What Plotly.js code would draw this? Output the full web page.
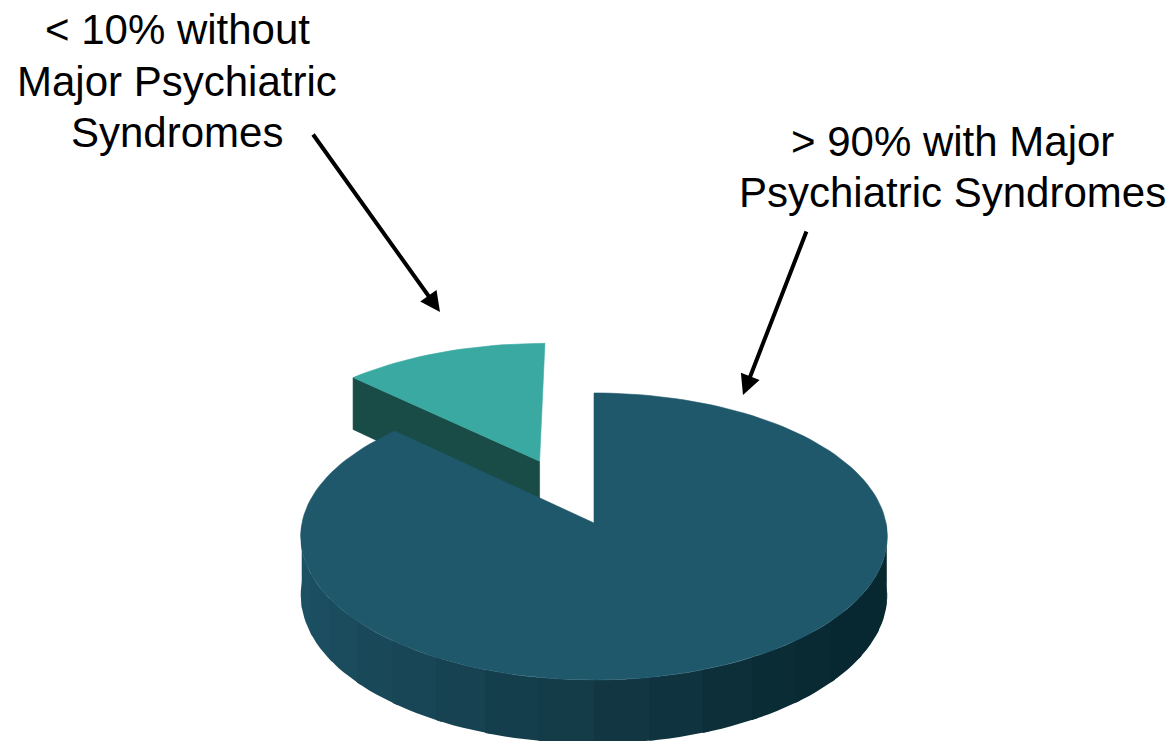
<!DOCTYPE html>
<html>
<head>
<meta charset="utf-8">
<script src="https://cdn.plot.ly/plotly-3.0.1.min.js"></script>
<style>html,body{margin:0;padding:0;background:#fff;}#chart{width:1175px;height:741px;}</style>
</head>
<body>
<div id="chart"></div>
<script>
// ---- data ----
const CATEGORIES = ['Without Major Psychiatric Syndromes', 'With Major Psychiatric Syndromes'];
const VALUES = [13, 87];
const LABEL_WITHOUT = ['< 10% without', 'Major Psychiatric', 'Syndromes'];
const LABEL_WITH = ['> 90% with Major', 'Psychiatric Syndromes'];

// ---- styles ----
const TOP_COLORS = ['#3aa9a2', '#1f586b'];
const SIDE_COLORS = ['#194c46', null];
const EXPLODE = [0.49, 0];
const SIDE_STOPS = [
  [0.00, [29, 84, 104]], [0.15, [27, 78, 96]], [0.30, [24, 70, 86]],
  [0.42, [20, 62, 76]], [0.52, [18, 56, 68]], [0.60, [14, 50, 62]],
  [0.68, [10, 44, 54]], [0.80, [8, 40, 49]], [1.00, [8, 40, 48]]
];

// ---- projection of a tilted disk (pixel units of the hidden axes) ----
const CX = 594, CY = 523, RX = 292, RY = 143.5, P = 0.094, D = 58;
const rad = a => a * Math.PI / 180;
function pt(th, r, h, ou, ov) {
  const u = ou + r * Math.sin(rad(th));
  const v = ov - r * Math.cos(rad(th));
  const s = 1 + P * v;
  return [CX + RX * u * s, CY + RY * v * s + h * D * s];
}
function sideColor(t) {
  for (let i = 1; i < SIDE_STOPS.length; i++) {
    const [t0, c0] = SIDE_STOPS[i - 1], [t1, c1] = SIDE_STOPS[i];
    if (t <= t1) {
      const f = (t - t0) / (t1 - t0);
      const c = c0.map((a, k) => Math.round(a + (c1[k] - a) * f));
      return 'rgb(' + c.join(',') + ')';
    }
  }
  return 'rgb(' + SIDE_STOPS[SIDE_STOPS.length - 1][1].join(',') + ')';
}
function poly(points, color, name, lw) {
  return {
    type: 'scatter', mode: 'lines', fill: 'toself',
    x: points.map(p => p[0]).concat([points[0][0]]),
    y: points.map(p => p[1]).concat([points[0][1]]),
    fillcolor: color, line: {color: color, width: lw === undefined ? 0.6 : lw},
    hoverinfo: 'skip', showlegend: false, name: name
  };
}

const total = VALUES.reduce((a, b) => a + b, 0);
let cum = 0;
const slices = VALUES.map((val, i) => {
  const th0 = -360 * cum / total;
  cum += val;
  const th1 = -360 * cum / total;
  const mid = (th0 + th1) / 2;
  const e = EXPLODE[i];
  return {i, th0, th1, ou: e * Math.sin(rad(mid)), ov: -e * Math.cos(rad(mid))};
});
slices.sort((a, b) => a.ov - b.ov);

const traces = [];
slices.forEach(sl => {
  const {i, th0, th1, ou, ov} = sl;
  const name = CATEGORIES[i];
  // radial face at end angle
  const nEnd = -Math.cos(rad(th1 - 90));
  if (nEnd > 0.01) {
    traces.push(poly([pt(th1, 0, 0, ou, ov), pt(th1, 1, 0, ou, ov), pt(th1, 1, 1, ou, ov), pt(th1, 0, 1, ou, ov)],
      SIDE_COLORS[i] || sideColor(0.3), name));
  }
  const nStart = -Math.cos(rad(th0 + 90));
  if (nStart > 0.01) {
    traces.push(poly([pt(th0, 0, 0, ou, ov), pt(th0, 1, 0, ou, ov), pt(th0, 1, 1, ou, ov), pt(th0, 0, 1, ou, ov)],
      SIDE_COLORS[i] || sideColor(0.3), name));
  }
  // outer wall (front half only), drawn as overlapping strips
  for (let k = -1; k <= 1; k++) {
    const wHi = -90 + 360 * k, wLo = -270 + 360 * k;
    const a = Math.min(th0, wHi), b = Math.max(th1, wLo);
    if (a <= b) continue;
    const N = 18;
    for (let j = 0; j < N; j++) {
      const ta = a - (a - b) * j / N;
      const tbExact = a - (a - b) * (j + 1) / N;
      const tb = j < N - 1 ? tbExact - 1.2 : tbExact;
      const pts = [];
      for (let m = 0; m <= 6; m++) pts.push(pt(ta + (tb - ta) * m / 6, 1, 0, ou, ov));
      for (let m = 6; m >= 0; m--) pts.push(pt(ta + (tb - ta) * m / 6, 1, 1, ou, ov));
      const tm = (-90 - (ta + tbExact) / 2 + 360 * k) / 180;
      traces.push(poly(pts, SIDE_COLORS[i] || sideColor(Math.max(0, Math.min(1, tm))), name, 0));
    }
  }
  // top face
  const top = [pt(0, 0, 0, ou, ov)];
  const steps = Math.max(8, Math.ceil(Math.abs(th0 - th1) / 2));
  for (let m = 0; m <= steps; m++) top.push(pt(th0 + (th1 - th0) * m / steps, 1, 0, ou, ov));
  traces.push(poly(top, TOP_COLORS[i], name));
});

const FONT = {family: 'Liberation Sans, Arial, sans-serif', size: 42, color: '#000'};
const annotations = [];
const L1Y = [29, 81, 132];
LABEL_WITHOUT.forEach((t, k) => annotations.push({x: 177, y: L1Y[k], xref: 'x', yref: 'y', text: t, showarrow: false, xanchor: 'center', yanchor: 'middle', font: FONT}));
const L2Y = [141, 192];
LABEL_WITH.forEach((t, k) => annotations.push({x: 952, y: L2Y[k], xref: 'x', yref: 'y', text: t, showarrow: false, xanchor: 'center', yanchor: 'middle', font: FONT}));
// arrows
annotations.push({x: 440, y: 312, ax: 312, ay: 133, xref: 'x', yref: 'y', axref: 'x', ayref: 'y', text: '', showarrow: true, arrowhead: 2, arrowsize: 1, arrowwidth: 4, arrowcolor: '#000'});
annotations.push({x: 743, y: 395, ax: 807, ay: 230, xref: 'x', yref: 'y', axref: 'x', ayref: 'y', text: '', showarrow: true, arrowhead: 2, arrowsize: 1, arrowwidth: 4, arrowcolor: '#000'});

const layout = {
  width: 1175, height: 741,
  margin: {l: 0, r: 0, t: 0, b: 0},
  paper_bgcolor: '#fff', plot_bgcolor: '#fff',
  xaxis: {range: [0, 1175], visible: false, fixedrange: true},
  yaxis: {range: [741, 0], visible: false, fixedrange: true},
  showlegend: false,
  annotations: annotations
};
Plotly.newPlot('chart', traces, layout, {displayModeBar: false, staticPlot: true});
</script>
</body>
</html>
